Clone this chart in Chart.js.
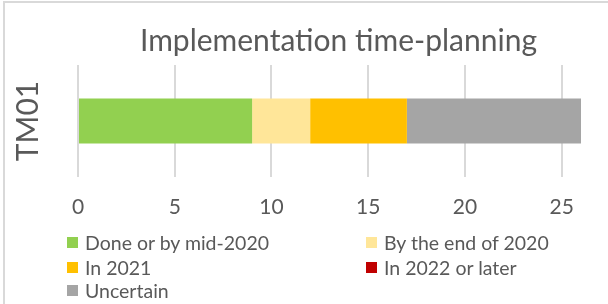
<!DOCTYPE html>
<html>
<head>
<meta charset="utf-8">
<script src="https://cdn.jsdelivr.net/npm/chart.js@4/dist/chart.umd.min.js"></script>
<style>
  html,body{margin:0;padding:0;background:#fff;overflow:hidden;}
  #wrap{position:relative;width:608px;height:304px;overflow:hidden;font-family:Lato,"Open Sans",sans-serif;}
  #frame{position:absolute;left:3px;top:1px;width:700px;height:400px;border:2px solid #d9d9d9;box-sizing:border-box;}
  #cv{position:absolute;left:0;top:0;}
  #legend{position:absolute;left:0;top:0;width:608px;height:304px;pointer-events:none;}
  .li{position:absolute;display:flex;align-items:center;font-size:19.5px;color:#595959;white-space:nowrap;}
  .sw{width:11px;height:11px;margin-right:7px;}
</style>
</head>
<body>
<div id="wrap">
  <div id="frame"></div>
  <canvas id="cv" width="608" height="230"></canvas>
  <div id="legend"></div>
</div>
<script>
const categories = ["TM01"];
const seriesNames = ["Done or by mid-2020", "By the end of 2020", "In 2021", "In 2022 or later", "Uncertain"];
const seriesValues = [[9], [3], [5], [0], [9]];
const seriesColors = ["#92d050", "#ffe699", "#ffc000", "#c00000", "#a5a5a5"];
const xTicks = [0, 5, 10, 15, 20, 25];
const chartTitle = "Implementation time-planning";

const datasets = seriesNames.map((n, i) => ({
  label: n,
  data: seriesValues[i],
  backgroundColor: seriesColors[i],
  borderWidth: 0,
  barPercentage: 0.4,
  categoryPercentage: 1.0
}));

// shift the title block slightly right, as in the reference
const titleShift = {
  id: 'titleShift',
  afterLayout(chart) {
    if (chart.titleBlock) { chart.titleBlock.left += 9; chart.titleBlock.right += 9; }
  }
};

const chart = new Chart(document.getElementById('cv'), {
  type: 'bar',
  data: { labels: categories, datasets },
  plugins: [titleShift],
  options: {
    indexAxis: 'y',
    responsive: false,
    animation: false,
    devicePixelRatio: 1,
    layout: { padding: { left: 0, right: 27, top: 0, bottom: 0 } },
    plugins: {
      legend: { display: false },
      tooltip: { enabled: false },
      title: {
        display: true,
        fullSize: false,
        text: chartTitle,
        color: '#595959',
        font: { family: 'Lato', size: 30, weight: 'normal' },
        padding: { top: 23, bottom: 6 }
      }
    },
    scales: {
      x: {
        stacked: true,
        min: 0, max: 26,
        afterBuildTicks: (axis) => { axis.ticks = xTicks.map(v => ({ value: v })); },
        afterFit: (axis) => { axis.height = 53; },
        grid: { color: '#d9d9d9', lineWidth: 2, drawTicks: false },
        border: { display: false },
        ticks: { color: '#595959', font: { family: 'Lato', size: 21 }, padding: 18 }
      },
      y: {
        stacked: true,
        afterFit: (axis) => { axis.width = 78; },
        grid: { display: false },
        border: { display: false },
        ticks: { display: false },
        title: {
          display: true,
          text: categories[0],
          color: '#595959',
          font: { family: 'Lato', size: 30, weight: 'normal' },
          padding: { top: 10, bottom: 0 }
        }
      }
    }
  }
});

// HTML legend in two columns, generated from the series arrays
const leg = document.getElementById('legend');
const colX = [67, 366];
const rowY = [242, 267, 290];
seriesNames.forEach((n, i) => {
  const d = document.createElement('div');
  d.className = 'li';
  d.style.left = colX[i % 2] + 'px';
  d.style.top = (rowY[Math.floor(i / 2)] - 12) + 'px';
  d.style.height = '24px';
  d.innerHTML = '<span class="sw" style="background:' + seriesColors[i] + '"></span><span></span>';
  d.lastChild.textContent = n;
  leg.appendChild(d);
});
</script>
</body>
</html>
